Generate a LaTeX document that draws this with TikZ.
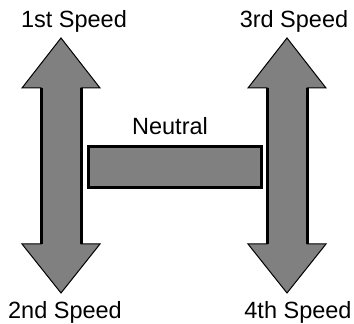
\documentclass[tikz,border=0pt]{standalone}
\usepackage{fontspec}
\setmainfont{Liberation Sans}
\begin{document}
\begin{tikzpicture}[
        x=0.5pt, y=-0.5pt,
        gear/.style={draw, fill=gray, line width=0.5pt, line join=miter},
        edge/.style={line width=1.5pt},
        speed/.style={font=\fontsize{11.75}{14}\selectfont, anchor=base, inner sep=0pt}
    ]
        \useasboundingbox (0,0) rectangle (354,324);
        % Shift gates
        \foreach \x in {61,287}
        {
            \draw[gear] (\x,38) -- (\x+39,88) -- (\x+20,88) -- (\x+20,244) -- (\x+39,244)
                -- (\x,293) -- (\x-39,244) -- (\x-20,244) -- (\x-20,88) -- (\x-39,88) -- cycle;
            \draw[edge] (\x-20,88) -- (\x-20,244) (\x+20,88) -- (\x+20,244);
        }
        % Neutral bar
        \node[draw, fill=gray, line width=1.5pt, minimum width=86.5pt, minimum height=20.5pt,
            inner sep=0pt] (neutral) at (175,167) {};
        \node[speed] (neutraltext) at (170,135) {Neutral};
        % Gear labels
        \foreach \x/\y/\gear in {74/28/1st,294/28/3rd,65/319/2nd,298/319/4th}
        {
            \node[speed] (\gear) at (\x,\y) {\gear{} Speed};
        }
    \end{tikzpicture}
\end{document}
